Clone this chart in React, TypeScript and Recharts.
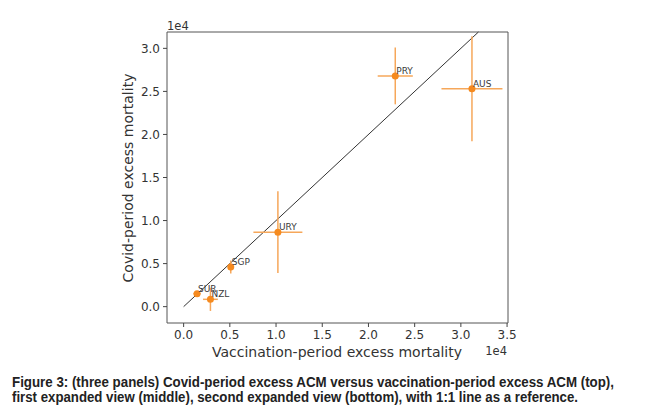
import {
  ScatterChart,
  Scatter,
  XAxis,
  YAxis,
  ErrorBar,
  ReferenceLine,
  ReferenceArea,
} from 'recharts';

const countries = ['AUS', 'PRY', 'URY', 'SGP', 'SUR', 'NZL'];
const vaccExcess = [31200, 22900, 10200, 5100, 1450, 2900];
const covidExcess = [25300, 26800, 8650, 4600, 1500, 850];
const vaccErr = [3300, 1900, 2650, 300, 400, 800];
const covidErr = [6100, 3300, 4750, 750, 250, 1350];

const xTicks = [0, 5000, 10000, 15000, 20000, 25000, 30000, 35000];
const yTicks = [0, 5000, 10000, 15000, 20000, 25000, 30000];

const points = countries.map((code, i) => ({
  code,
  x: vaccExcess[i],
  y: covidExcess[i],
  ex: vaccErr[i],
  ey: covidErr[i],
}));

const font = 'DejaVu Sans';
const fmt = (v: number) => (v / 1e4).toFixed(1);

const Dot = (props: any) => {
  const { cx, cy, payload } = props;
  return (
    <g>
      <circle cx={cx} cy={cy} r={3.5} fill='#f58a1f' />
      <text x={cx + 1} y={cy - 2} fontSize={9} fill='#3a3a3a' fontFamily={font}>
        {payload.code}
      </text>
    </g>
  );
};

export default function App() {
  return (
    <div
      style={{
        position: 'absolute',
        left: 0,
        top: 0,
        width: 662,
        height: 409,
        background: '#fff',
        fontFamily: font,
      }}
    >
      <ScatterChart
        width={662}
        height={360}
        margin={{ top: 32, right: 154, bottom: 7, left: 107 }}
      >
        <XAxis
          type='number'
          dataKey='x'
          domain={[-1800, 35100]}
          ticks={xTicks}
          tickFormatter={fmt}
          tickSize={4}
          tickMargin={3}
          height={30}
          axisLine={false}
          tickLine={{ stroke: '#444' }}
          tick={{ fontSize: 12, fill: '#333', fontFamily: font }}
          allowDataOverflow
        />
        <YAxis
          type='number'
          dataKey='y'
          domain={[-1900, 31900]}
          ticks={yTicks}
          tickFormatter={fmt}
          tickSize={4}
          tickMargin={3}
          width={60}
          axisLine={false}
          tickLine={{ stroke: '#444' }}
          tick={{ fontSize: 12, fill: '#333', fontFamily: font }}
          allowDataOverflow
        />
        <ReferenceArea
          x1={-1800}
          x2={35100}
          y1={-1900}
          y2={31900}
          fill='none'
          stroke='#555'
          strokeWidth={1}
        />
        <ReferenceLine
          segment={[
            { x: 0, y: 0 },
            { x: 31900, y: 31900 },
          ]}
          stroke='#333'
          strokeWidth={1}
        />
        <Scatter data={points} shape={<Dot />} isAnimationActive={false}>
          <ErrorBar
            dataKey='ex'
            direction='x'
            width={0}
            stroke='#f6a75a'
            strokeWidth={1.5}
            isAnimationActive={false}
          />
          <ErrorBar
            dataKey='ey'
            direction='y'
            width={0}
            stroke='#f6a75a'
            strokeWidth={1.5}
            isAnimationActive={false}
          />
        </Scatter>
      </ScatterChart>
      <svg
        width={662}
        height={409}
        style={{ position: 'absolute', left: 0, top: 0, pointerEvents: 'none' }}
      >
        <text x={167} y={30} fontSize={11.5} fill='#333' fontFamily={font}>
          1e4
        </text>
        <text
          x={507}
          y={355}
          fontSize={11.5}
          fill='#333'
          textAnchor='end'
          fontFamily={font}
        >
          1e4
        </text>
        <text
          x={337}
          y={357}
          fontSize={14}
          fill='#333'
          textAnchor='middle'
          fontFamily={font}
        >
          Vaccination-period excess mortality
        </text>
        <text
          transform='translate(133,178) rotate(-90)'
          fontSize={14}
          fill='#333'
          textAnchor='middle'
          fontFamily={font}
        >
          Covid-period excess mortality
        </text>
        <text
          x={12}
          y={387}
          fontSize={14}
          fontWeight='bold'
          fill='#222'
          fontFamily='Liberation Sans Narrow, Liberation Sans'
          textLength={602}
          lengthAdjust='spacingAndGlyphs'
        >
          Figure 3: (three panels) Covid-period excess ACM versus vaccination-period excess ACM (top),
        </text>
        <text
          x={12}
          y={402}
          fontSize={14}
          fontWeight='bold'
          fill='#222'
          fontFamily='Liberation Sans Narrow, Liberation Sans'
          textLength={566}
          lengthAdjust='spacingAndGlyphs'
        >
          first expanded view (middle), second expanded view (bottom), with 1:1 line as a reference.
        </text>
      </svg>
    </div>
  );
}
